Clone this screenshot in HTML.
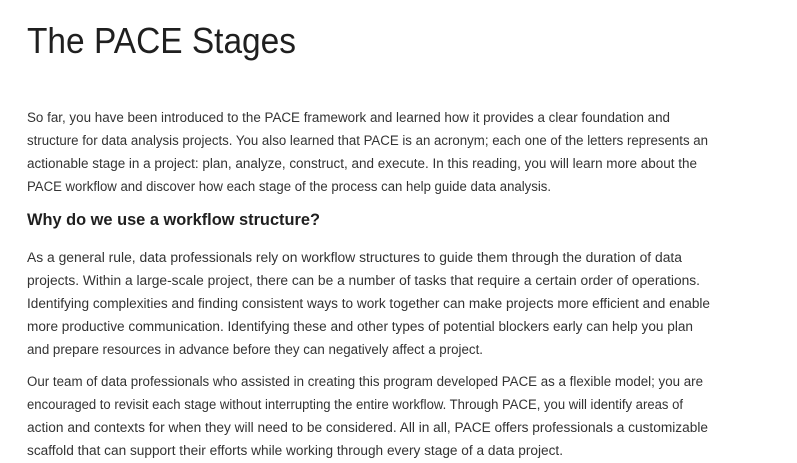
<!DOCTYPE html>
<html><head><meta charset="utf-8"><style>
html,body{margin:0;padding:0;background:#fff;}
svg{display:block;font-family:"Liberation Sans",sans-serif;}
.b{font-size:13.5px;fill:#333;}
</style></head><body>
<svg width="797" height="463" viewBox="0 0 797 463">
<text x="27" y="53" font-size="36" fill="#1f1f1f" textLength="269" lengthAdjust="spacingAndGlyphs">The PACE Stages</text>
<g class="b">
<text x="27" y="122" textLength="643" lengthAdjust="spacingAndGlyphs">So far, you have been introduced to the PACE framework and learned how it provides a clear foundation and</text>
<text x="27" y="145" textLength="681" lengthAdjust="spacingAndGlyphs">structure for data analysis projects. You also learned that PACE is an acronym; each one of the letters represents an</text>
<text x="27" y="168" textLength="670" lengthAdjust="spacingAndGlyphs">actionable stage in a project: plan, analyze, construct, and execute. In this reading, you will learn more about the</text>
<text x="27" y="191" textLength="524" lengthAdjust="spacingAndGlyphs">PACE workflow and discover how each stage of the process can help guide data analysis.</text>
</g>
<text x="27" y="225" font-size="17" font-weight="bold" fill="#1f1f1f" textLength="293" lengthAdjust="spacingAndGlyphs">Why do we use a workflow structure?</text>
<g class="b">
<text x="27" y="262" textLength="655" lengthAdjust="spacingAndGlyphs">As a general rule, data professionals rely on workflow structures to guide them through the duration of data</text>
<text x="27" y="285" textLength="673" lengthAdjust="spacingAndGlyphs">projects. Within a large-scale project, there can be a number of tasks that require a certain order of operations.</text>
<text x="27" y="308" textLength="683" lengthAdjust="spacingAndGlyphs">Identifying complexities and finding consistent ways to work together can make projects more efficient and enable</text>
<text x="27" y="331" textLength="666" lengthAdjust="spacingAndGlyphs">more productive communication. Identifying these and other types of potential blockers early can help you plan</text>
<text x="27" y="354" textLength="456" lengthAdjust="spacingAndGlyphs">and prepare resources in advance before they can negatively affect a project.</text>
</g>
<g class="b">
<text x="27" y="386" textLength="676" lengthAdjust="spacingAndGlyphs">Our team of data professionals who assisted in creating this program developed PACE as a flexible model; you are</text>
<text x="27" y="409" textLength="656" lengthAdjust="spacingAndGlyphs">encouraged to revisit each stage without interrupting the entire workflow. Through PACE, you will identify areas of</text>
<text x="27" y="432" textLength="681" lengthAdjust="spacingAndGlyphs">action and contexts for when they will need to be considered. All in all, PACE offers professionals a customizable</text>
<text x="27" y="455" textLength="536" lengthAdjust="spacingAndGlyphs">scaffold that can support their efforts while working through every stage of a data project.</text>
</g>
</svg>
</body></html>
